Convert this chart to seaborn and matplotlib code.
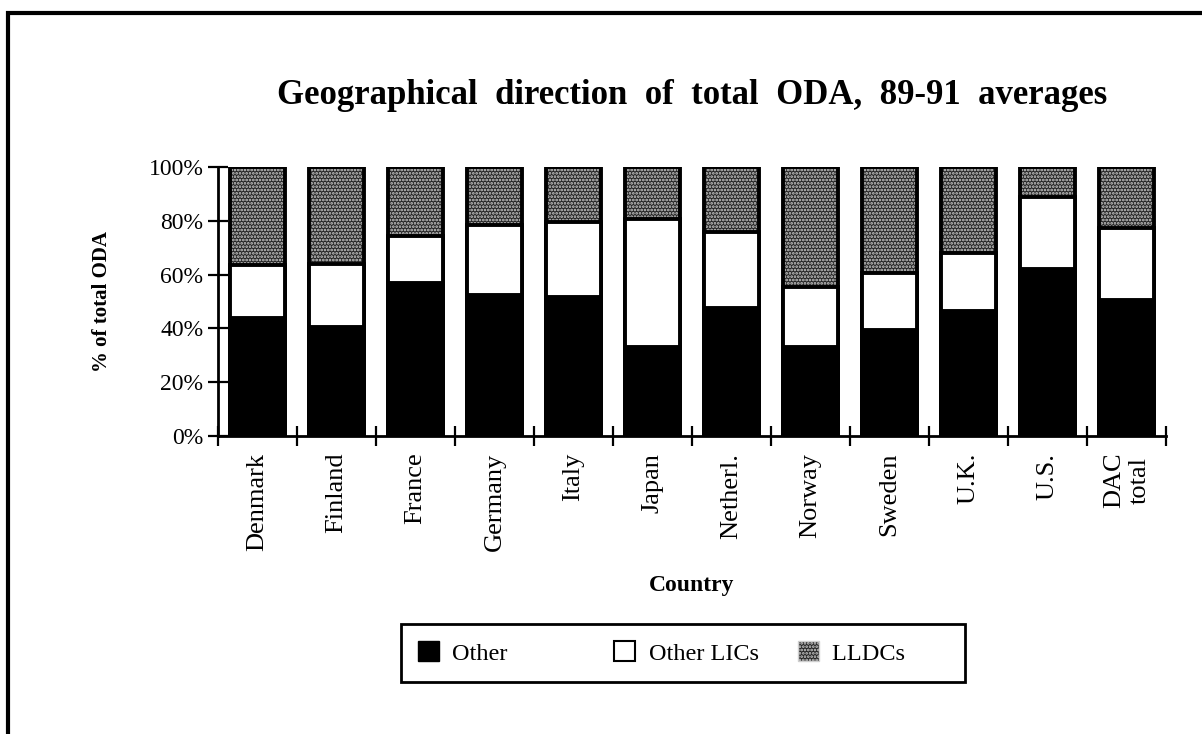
import numpy as np
import pandas as pd
import matplotlib.pyplot as plt
from matplotlib.patches import Patch, Rectangle
import seaborn as sns

sns.set_style('white')
plt.rcParams['font.family'] = ['Liberation Serif', 'DejaVu Serif']
plt.rcParams['hatch.linewidth'] = 1.3
for key in ['text.color', 'axes.labelcolor', 'xtick.color', 'ytick.color']:
    plt.rcParams[key] = 'black'

# Data (share of total ODA, %)
countries = ['Denmark', 'Finland', 'France', 'Germany', 'Italy', 'Japan',
             'Netherl.', 'Norway', 'Sweden', 'U.K.', 'U.S.', 'DAC\ntotal']
other = [44, 40.5, 57, 52.5, 51.5, 33, 47.5, 33, 39.5, 46.5, 62, 50.5]
other_lics = [19.5, 23.5, 17.5, 26, 28, 47.5, 28.5, 22.5, 21, 21.5, 27, 27]
lldcs = [100 - o - l for o, l in zip(other, other_lics)]
y_ticks = [0, 20, 40, 60, 80, 100]
y_ticklabels = ['0%', '20%', '40%', '60%', '80%', '100%']

df = pd.DataFrame({'country': countries, 'other': other,
                   'lics': other_lics, 'lldcs': lldcs})
df['cum_lics'] = df['other'] + df['lics']
df['total'] = df['cum_lics'] + df['lldcs']

STIPPLE_FACE = '#262626'
STIPPLE_DOTS = '#cfcfcf'
EDGE_W = 2.8

fig = plt.figure(figsize=(12.02, 7.34), dpi=100, facecolor='white')
ax = fig.add_axes([0.1814, 0.406, 0.7887, 0.3665])

# stacked bars: draw cumulative layers from back to front
sns.barplot(data=df, x='country', y='total', ax=ax, width=0.7, saturation=1,
            color=STIPPLE_FACE, edgecolor=STIPPLE_DOTS, hatch='.....', linewidth=0)
sns.barplot(data=df, x='country', y='total', ax=ax, width=0.7, fill=False,
            color='black', linewidth=EDGE_W)
sns.barplot(data=df, x='country', y='cum_lics', ax=ax, width=0.7, saturation=1,
            color='white', edgecolor='black', linewidth=EDGE_W)
sns.barplot(data=df, x='country', y='other', ax=ax, width=0.7, saturation=1,
            color='black', edgecolor='black', linewidth=EDGE_W)

# axes styling
ax.set_xlim(-0.5, len(countries) - 0.5)
ax.set_ylim(0, 100)
for side in ['top', 'right']:
    ax.spines[side].set_visible(False)
for side in ['left', 'bottom']:
    ax.spines[side].set_linewidth(2)
    ax.spines[side].set_color('black')

ax.set_yticks(y_ticks)
ax.set_yticklabels(y_ticklabels, fontsize=17)
ax.tick_params(axis='y', direction='inout', length=15, width=1.6, pad=3, left=True)

ax.set_xticks(range(len(countries)))
ax.set_xticklabels(countries, rotation=90, fontsize=19, va='top', ha='center',
                   multialignment='center')
ax.tick_params(axis='x', which='major', length=0, pad=12)
ax.set_xticks(np.arange(-0.5, len(countries)), minor=True)
ax.tick_params(axis='x', which='minor', direction='inout', length=15, width=1.6, bottom=True)

ax.set_xlabel('Country', fontsize=17, fontweight='bold', labelpad=17)
ax.set_ylabel('% of total ODA', fontsize=15, fontweight='bold', labelpad=26)
ax.set_title('Geographical  direction  of  total  ODA,  89-91  averages',
             fontsize=25, fontweight='bold', pad=45)

# legend
handles = [Patch(facecolor='black', edgecolor='black'),
           Patch(facecolor='white', edgecolor='black', linewidth=1.5),
           Patch(facecolor=STIPPLE_FACE, edgecolor=STIPPLE_DOTS, hatch='.....')]
labels = ['Other' + ' ' * 11, 'Other LICs', 'LLDCs' + ' ' * 7]
leg = fig.legend(handles, labels, loc='center', bbox_to_anchor=(683 / 1202, 1 - 653 / 734),
                 ncol=3, fontsize=17.5, frameon=True, fancybox=False,
                 edgecolor='black', framealpha=1,
                 handlelength=0.88, handleheight=0.88, handletextpad=0.55,
                 columnspacing=1.6, borderpad=0.7)
leg.get_frame().set_linewidth(2)

# outer frame around the figure panel
fig.patches.append(Rectangle((8 / 1202, -0.1), 1.2, 1.1 - 13 / 734,
                             transform=fig.transFigure, fill=False,
                             edgecolor='black', linewidth=3))

fig.savefig('out.png', dpi=100, facecolor='white')
